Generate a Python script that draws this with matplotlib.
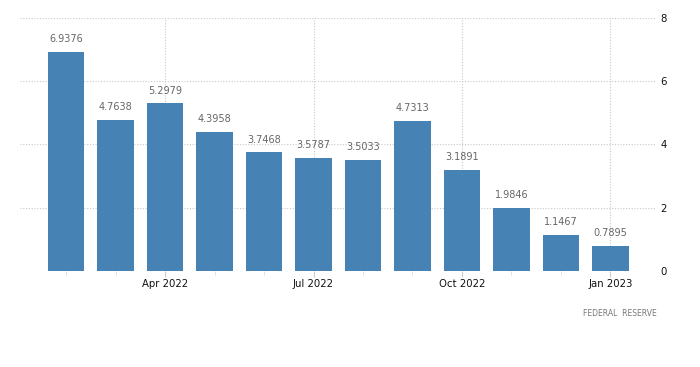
import matplotlib
matplotlib.use("Agg")
import matplotlib.pyplot as plt

months = ["Feb 2022", "Mar 2022", "Apr 2022", "May 2022", "Jun 2022", "Jul 2022",
          "Aug 2022", "Sep 2022", "Oct 2022", "Nov 2022", "Dec 2022", "Jan 2023"]
values = [6.9376, 4.7638, 5.2979, 4.3958, 3.7468, 3.5787,
          3.5033, 4.7313, 3.1891, 1.9846, 1.1467, 0.7895]
tick_labels = ["Apr 2022", "Jul 2022", "Oct 2022", "Jan 2023"]
yticks = [0, 2, 4, 6, 8]

fig = plt.figure(figsize=(7, 3.67), dpi=100)
ax = fig.add_axes([0.0286, 0.2616, 0.9071, 0.6894])

x = list(range(len(months)))
ax.bar(x, values, width=0.73, color="#4682b4", zorder=3)
for xi, v in zip(x, values):
    ax.text(xi, v + 0.25, f"{v:.4f}", ha="center", va="bottom",
            fontsize=7, color="#666666", zorder=4)

ax.set_xlim(-0.93, 11.9)
ax.set_ylim(0, 8)
tick_pos = [months.index(m) for m in tick_labels]
ax.set_xticks(tick_pos)
ax.set_xticklabels(tick_labels, fontsize=7.3, color="#111111")
ax.set_xticks(x, minor=True)
ax.tick_params(axis="x", which="major", length=4, color="#cccccc", pad=2)
ax.tick_params(axis="x", which="minor", length=3, color="#dddddd")
ax.yaxis.tick_right()
ax.set_yticks(yticks)
ax.set_yticklabels([str(t) for t in yticks], fontsize=7.3, color="#111111")
ax.tick_params(axis="y", length=0, pad=4)
ax.grid(True, axis="both", which="major", linestyle=(0, (1, 1.5)), color="#c8c8c8", linewidth=0.8, zorder=0)
for s in ax.spines.values():
    s.set_visible(False)

fig.text(0.938, 0.147, "FEDERAL  RESERVE",
         ha="right", va="center", fontsize=5.5, color="#777777")

fig.savefig("out.png", dpi=100)
